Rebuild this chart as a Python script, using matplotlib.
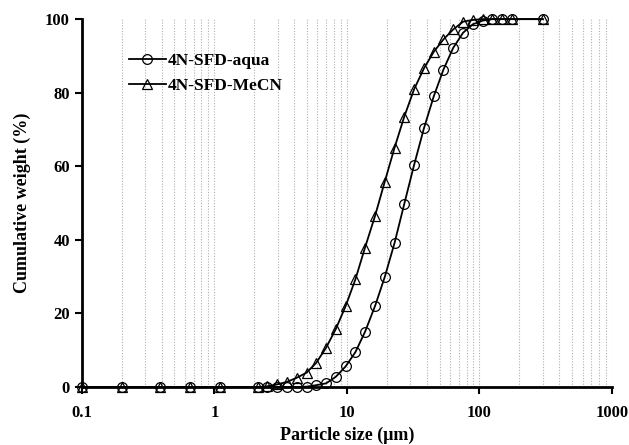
import matplotlib
matplotlib.use("Agg")
import matplotlib.pyplot as plt
from matplotlib.ticker import LogLocator, NullFormatter, FixedLocator
import numpy as np

# particle size bins (um)
tamanho = [0.1, 0.2, 0.39, 0.65, 1.1,
           2.12, 2.51, 2.98, 3.53, 4.18, 4.96, 5.88, 6.97, 8.26, 9.78,
           11.6, 13.7, 16.3, 19.3, 22.9, 27.1, 32.1, 38.1, 45.2, 53.5,
           63.4, 75.2, 89.1, 106, 125, 148, 176, 300]

aqua = [0, 0, 0, 0, 0,
        0, 0, 0, 0, 0, 0.1, 0.5, 1.0, 2.8, 5.6,
        9.5, 15.0, 22.0, 29.9, 39.2, 49.8, 60.3, 70.3, 79.0, 86.3,
        92.2, 96.3, 98.6, 99.6, 100, 100, 100, 100]

mecn = [0, 0, 0, 0, 0,
        0, 0.2, 0.7, 1.4, 2.5, 3.9, 6.6, 10.7, 15.8, 22.0,
        29.3, 37.9, 46.5, 55.8, 65.1, 73.5, 80.9, 86.6, 91.1, 94.5,
        97.2, 99.3, 99.8, 100, 100, 100, 100, 100]

plt.rcParams['font.family'] = ['Liberation Serif', 'DejaVu Serif']
plt.rcParams['font.weight'] = 'bold'

fig = plt.figure(figsize=(6.29, 4.45), dpi=100)
ax = fig.add_axes([0.130, 0.1303, 0.843, 0.8267])

ax.plot(tamanho, aqua, '-o', color='black', lw=1.3, markersize=7,
        markerfacecolor='none', markeredgecolor='black', markeredgewidth=0.9,
        label='4N-SFD-aqua', clip_on=False, zorder=3)
ax.plot(tamanho, mecn, '-^', color='black', lw=1.3, markersize=7.5,
        markerfacecolor='none', markeredgecolor='black', markeredgewidth=0.9,
        label='4N-SFD-MeCN', clip_on=False, zorder=3)

ax.set_xscale('log')
ax.set_xlim(0.1, 1000)
ax.set_ylim(0, 100)

ax.xaxis.set_major_locator(FixedLocator([0.1, 1, 10, 100, 1000]))
ax.set_xticklabels(['0.1', '1', '10', '100', '1000'])
ax.xaxis.set_minor_locator(LogLocator(base=10, subs=np.arange(2, 10)))
ax.xaxis.set_minor_formatter(NullFormatter())
ax.set_yticks([0, 20, 40, 60, 80, 100])

ax.grid(True, which='both', axis='x', color='#b0b0b0', linestyle=(0, (1, 1.5)), lw=0.8)
ax.set_axisbelow(True)

for s in ['top', 'right']:
    ax.spines[s].set_visible(False)
ax.spines['left'].set_linewidth(2)
ax.spines['bottom'].set_linewidth(2)

ax.tick_params(axis='both', which='major', labelsize=12, direction='out', width=1.5, length=5)
ax.tick_params(axis='x', which='minor', length=0)
ax.tick_params(axis='x', which='major', pad=8)
for lab in ax.get_xticklabels() + ax.get_yticklabels():
    lab.set_fontweight('bold')

ax.set_xlabel('Particle size (\u03bcm)', fontsize=13, fontweight='bold', labelpad=4)
ax.set_ylabel('Cumulative weight (%)', fontsize=13, fontweight='bold', labelpad=10)

leg = ax.legend(loc='upper left', bbox_to_anchor=(0.06, 0.95), frameon=False,
                fontsize=12.5, handlelength=2.1, handletextpad=0.1, labelspacing=0.5)
for t in leg.get_texts():
    t.set_fontweight('bold')

fig.savefig('out.png', dpi=100)
